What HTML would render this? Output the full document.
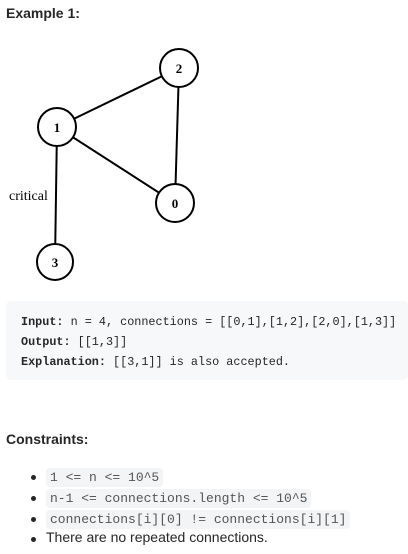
<!DOCTYPE html>
<html><head><style>
body{margin:0;width:408px;height:554px;background:#fff;font-family:"Liberation Sans",sans-serif;color:#262626;position:relative;overflow:hidden}
.a{position:absolute;white-space:nowrap}
pre{position:absolute;left:6px;top:301px;width:402px;height:79px;margin:0;background:#f7f8fa;border-radius:5px;box-sizing:border-box;padding:11px 0 0 15px;font-family:"Liberation Mono",monospace;font-size:11.8px;line-height:20px;color:#262626;overflow:hidden}
pre b{font-weight:bold}
.dot{position:absolute;left:31px;width:5px;height:5px;border-radius:50%;background:#262626}
code{position:absolute;left:46px;background:#f3f4f5;border-radius:4px;padding:1px 4px;font-family:"Liberation Mono",monospace;font-size:13px;color:#555;line-height:17px}
</style></head><body>
<div class="a" style="left:6px;top:5px;font-weight:bold;font-size:14px">Example 1:</div>
<svg class="a" style="left:0;top:0" width="220" height="290">
<g stroke="#000" stroke-width="2" fill="none">
<line x1="57" y1="127" x2="179" y2="68"/>
<line x1="179" y1="68" x2="175" y2="203"/>
<line x1="57" y1="127" x2="175" y2="203"/>
<line x1="57" y1="127" x2="55" y2="262"/>
<g fill="#fff">
<circle cx="179" cy="68" r="19"/><circle cx="57" cy="127" r="19"/>
<circle cx="175" cy="203" r="19"/><circle cx="55" cy="262" r="18"/>
</g></g>
<g font-family="Liberation Serif,serif" font-weight="bold" font-size="13" text-anchor="middle">
<text x="179" y="73">2</text><text x="57" y="132">1</text><text x="175" y="208">0</text><text x="55" y="267">3</text>
</g>
<text x="9" y="200" font-family="Liberation Serif,serif" font-size="14">critical</text>
</svg>
<pre><b>Input:</b> n = 4, connections = [[0,1],[1,2],[2,0],[1,3]]
<b>Output:</b> [[1,3]]
<b>Explanation:</b> [[3,1]] is also accepted.</pre>
<div class="a" style="left:6px;top:431px;font-weight:bold;font-size:14px">Constraints:</div>
<div class="dot" style="top:475px"></div><code style="top:468px">1 &lt;= n &lt;= 10^5</code>
<div class="dot" style="top:496px"></div><code style="top:489px">n-1 &lt;= connections.length &lt;= 10^5</code>
<div class="dot" style="top:517px"></div><code style="top:510px">connections[i][0] != connections[i][1]</code>
<div class="dot" style="top:537px"></div><div class="a" style="left:46px;top:529px;font-size:14px">There are no repeated connections.</div>
</body></html>
